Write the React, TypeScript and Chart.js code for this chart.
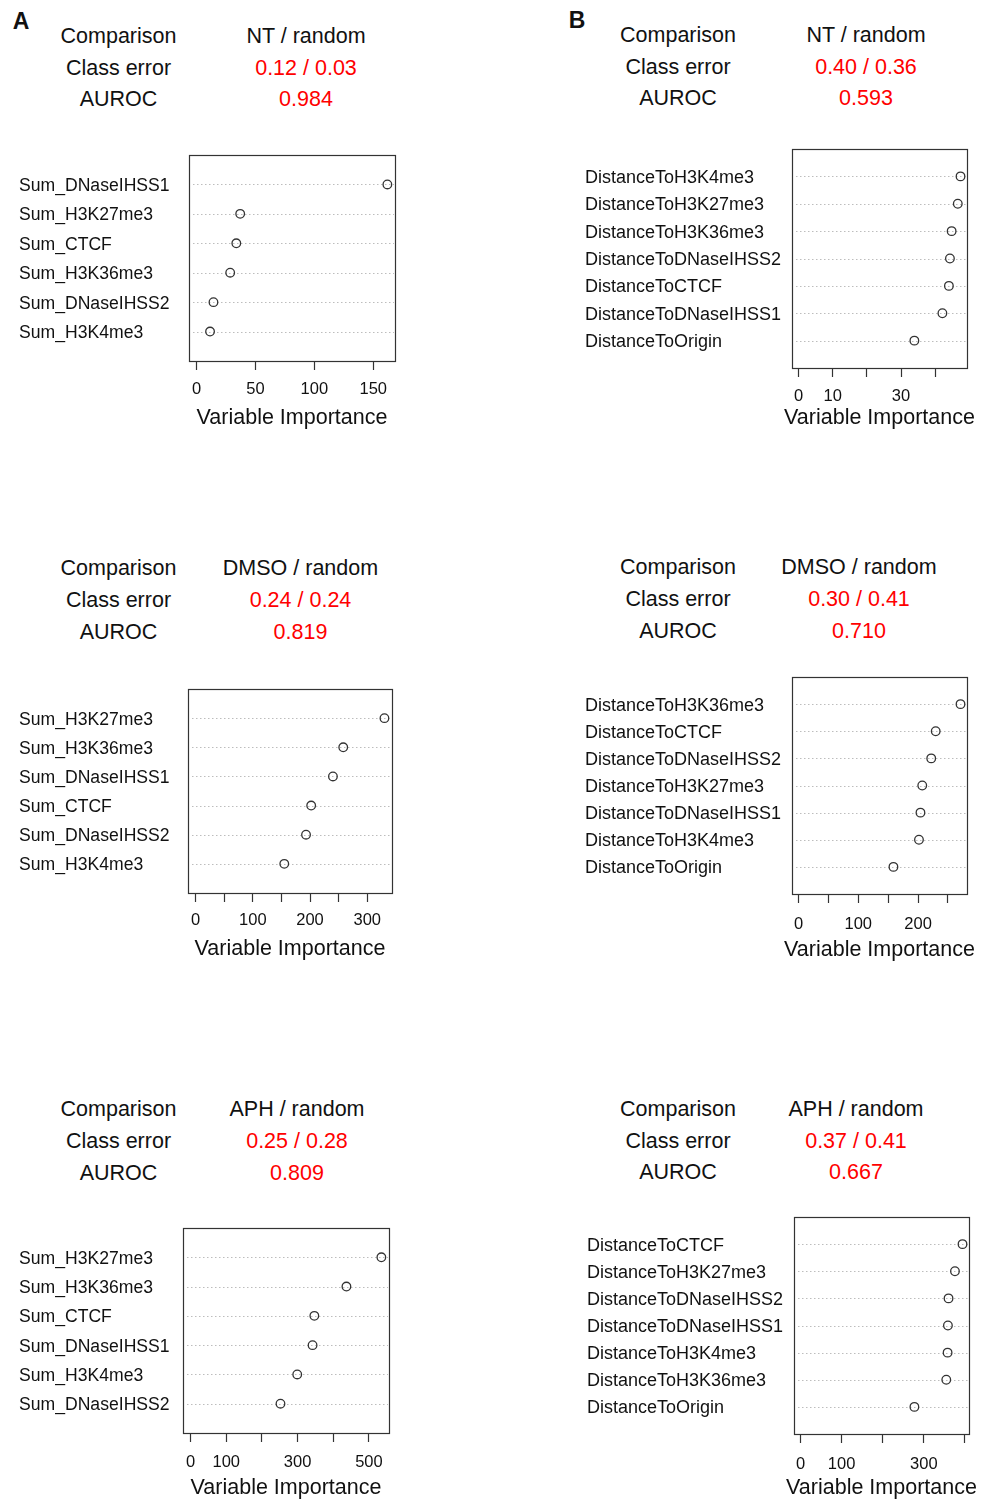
import React, { useEffect, useRef } from "react";
import { Chart, registerables } from "chart.js";

Chart.register(...registerables);

// ---------- DATA ----------
const a1Labels = ["Sum_DNaseIHSS1", "Sum_H3K27me3", "Sum_CTCF", "Sum_H3K36me3", "Sum_DNaseIHSS2", "Sum_H3K4me3"];
const a1Values = [162, 37, 33.7, 28.5, 14.3, 11.4];
const a1Ticks = [0, 50, 100, 150];
const a1TickLabels = ["0", "50", "100", "150"];

const b1Labels = ["DistanceToH3K4me3", "DistanceToH3K27me3", "DistanceToH3K36me3", "DistanceToDNaseIHSS2", "DistanceToCTCF", "DistanceToDNaseIHSS1", "DistanceToOrigin"];
const b1Values = [47.4, 46.6, 44.8, 44.3, 44.0, 42.1, 33.9];
const b1Ticks = [0, 10, 20, 30, 40];
const b1TickLabels = ["0", "10", "", "30", ""];

const a2Labels = ["Sum_H3K27me3", "Sum_H3K36me3", "Sum_DNaseIHSS1", "Sum_CTCF", "Sum_DNaseIHSS2", "Sum_H3K4me3"];
const a2Values = [330, 258, 240, 202, 193, 155];
const a2Ticks = [0, 50, 100, 150, 200, 250, 300];
const a2TickLabels = ["0", "", "100", "", "200", "", "300"];

const b2Labels = ["DistanceToH3K36me3", "DistanceToCTCF", "DistanceToDNaseIHSS2", "DistanceToH3K27me3", "DistanceToDNaseIHSS1", "DistanceToH3K4me3", "DistanceToOrigin"];
const b2Values = [271, 229.5, 222, 207, 204, 201.5, 158.8];
const b2Ticks = [0, 50, 100, 150, 200, 250];
const b2TickLabels = ["0", "", "100", "", "200", ""];

const a3Labels = ["Sum_H3K27me3", "Sum_H3K36me3", "Sum_CTCF", "Sum_DNaseIHSS1", "Sum_H3K4me3", "Sum_DNaseIHSS2"];
const a3Values = [535, 437, 347, 342, 299, 252];
const a3Ticks = [0, 100, 200, 300, 400, 500];
const a3TickLabels = ["0", "100", "", "300", "", "500"];

const b3Labels = ["DistanceToCTCF", "DistanceToH3K27me3", "DistanceToDNaseIHSS2", "DistanceToDNaseIHSS1", "DistanceToH3K4me3", "DistanceToH3K36me3", "DistanceToOrigin"];
const b3Values = [394, 375.6, 360, 358.5, 357.7, 354.5, 277];
const b3Ticks = [0, 100, 200, 300, 400];
const b3TickLabels = ["0", "100", "", "300", ""];

const a1Header = ["NT / random", "0.12 / 0.03", "0.984"];
const b1Header = ["NT / random", "0.40 / 0.36", "0.593"];
const a2Header = ["DMSO / random", "0.24 / 0.24", "0.819"];
const b2Header = ["DMSO / random", "0.30 / 0.41", "0.710"];
const a3Header = ["APH / random", "0.25 / 0.28", "0.809"];
const b3Header = ["APH / random", "0.37 / 0.41", "0.667"];
const headerKeys = ["Comparison", "Class error", "AUROC"];
const axisTitle = "Variable Importance";

// ---------- LAYOUT ----------
const FONT = '"Liberation Sans", Arial, Helvetica, sans-serif';
const PAD_TOP = 12;
const PAD_RIGHT = 16;
const BOTTOM_H = 72;
const TICK_LEN = 9;
const TICK_FONT = 16.5;
const TITLE_FONT = 21.5;

type PanelProps = {
  labels: string[];
  values: number[];
  ticks: number[];
  tickLabels: string[];
  labelLeft: number;
  labelFont: number;
  boxL: number;
  boxR: number;
  boxT: number;
  boxB: number;
  tickOff: number;
  titleOff: number;
};

function Panel(p: PanelProps) {
  const ref = useRef<HTMLCanvasElement | null>(null);
  const width = p.boxR + PAD_RIGHT - p.labelLeft;
  const height = PAD_TOP + (p.boxB - p.boxT) + BOTTOM_H;

  useEffect(() => {
    if (!ref.current) return;
    const n = p.labels.length;
    const maxV = Math.max(...p.values);
    const ext = maxV * 0.04;
    const data = p.values.map((v, i) => ({ x: v, y: n - i }));
    const rows = p.values.map((_, i) => n - i);

    const framePlugin = {
      id: "frame",
      beforeDatasetsDraw(chart: any) {
        const { ctx, chartArea, scales } = chart;
        ctx.save();
        ctx.strokeStyle = "#bdbdbd";
        ctx.lineWidth = 1;
        ctx.setLineDash([1.5, 2.5]);
        rows.forEach((r) => {
          const y = Math.round(scales.y.getPixelForValue(r)) + 0.5;
          ctx.beginPath();
          ctx.moveTo(chartArea.left + 4, y);
          ctx.lineTo(chartArea.right - 1, y);
          ctx.stroke();
        });
        ctx.restore();
      },
      afterDraw(chart: any) {
        const { ctx, chartArea } = chart;
        ctx.save();
        ctx.strokeStyle = "#333";
        ctx.lineWidth = 1.2;
        ctx.strokeRect(
          chartArea.left + 0.5,
          chartArea.top + 0.5,
          chartArea.right - chartArea.left,
          chartArea.bottom - chartArea.top
        );
        ctx.fillStyle = "#111";
        ctx.font = `${TITLE_FONT}px ${FONT}`;
        ctx.textAlign = "center";
        ctx.textBaseline = "middle";
        ctx.fillText(axisTitle, (chartArea.left + chartArea.right) / 2, chartArea.bottom + p.titleOff + 1);
        ctx.restore();
      },
    };

    const chart = new Chart(ref.current, {
      type: "scatter",
      data: {
        datasets: [
          {
            data,
            pointRadius: 4.3,
            pointHoverRadius: 4.3,
            pointBorderWidth: 1.3,
            borderColor: "#333",
            backgroundColor: "rgba(0,0,0,0)",
            pointBackgroundColor: "rgba(0,0,0,0)",
            pointBorderColor: "#333",
          } as any,
        ],
      },
      options: {
        animation: false,
        responsive: false,
        events: [],
        layout: { padding: { top: PAD_TOP, right: PAD_RIGHT, left: 0, bottom: 0 } },
        plugins: { legend: { display: false }, tooltip: { enabled: false } },
        scales: {
          x: {
            type: "linear",
            min: -ext,
            max: maxV + ext,
            afterBuildTicks: (axis: any) => {
              axis.ticks = p.ticks.map((v) => ({ value: v }));
            },
            afterFit: (axis: any) => {
              axis.height = BOTTOM_H;
            },
            grid: {
              display: true,
              drawOnChartArea: false,
              drawTicks: true,
              tickLength: TICK_LEN,
              tickColor: "#333",
              tickWidth: 1.2,
            },
            border: { display: false },
            ticks: {
              autoSkip: false,
              maxRotation: 0,
              padding: p.tickOff - TICK_LEN - (TICK_FONT * 1.2) / 2 + 1,
              color: "#111",
              font: { family: FONT, size: TICK_FONT },
              callback: (_v: any, i: number) => p.tickLabels[i],
            },
          },
          y: {
            type: "linear",
            min: 0,
            max: n + 1,
            afterBuildTicks: (axis: any) => {
              axis.ticks = rows.map((v) => ({ value: v }));
            },
            afterFit: (axis: any) => {
              axis.width = p.boxL - p.labelLeft;
            },
            grid: { display: false },
            border: { display: false },
            ticks: {
              autoSkip: false,
              crossAlign: "far",
              padding: 0,
              labelOffset: 1.5,
              color: "#111",
              font: { family: FONT, size: p.labelFont },
              callback: (v: any) => p.labels[n - Number(v)],
            },
          },
        },
      } as any,
      plugins: [framePlugin],
    });
    return () => chart.destroy();
  }, []);

  return (
    <canvas
      ref={ref}
      width={width}
      height={height}
      style={{
        position: "absolute",
        left: p.labelLeft,
        top: p.boxT - PAD_TOP,
        width,
        height,
      }}
    />
  );
}

function Txt(props: { x: number; y: number; text: string; color?: string; size?: number; bold?: boolean }) {
  return (
    <div
      style={{
        position: "absolute",
        left: props.x,
        top: props.y,
        transform: "translate(-50%, -50%)",
        whiteSpace: "nowrap",
        fontFamily: FONT,
        fontSize: props.size ?? 21.5,
        fontWeight: props.bold ? 700 : 400,
        lineHeight: 1,
        color: props.color ?? "#111",
      }}
    >
      {props.text}
    </div>
  );
}

function Header(props: { lx: number; rx: number; ys: number[]; values: string[] }) {
  return (
    <>
      {headerKeys.map((k, i) => (
        <Txt key={"k" + i} x={props.lx} y={props.ys[i] + 1.5} text={k} />
      ))}
      {props.values.map((v, i) => (
        <Txt key={"v" + i} x={props.rx} y={props.ys[i] + 1.5} text={v} color={i === 0 ? "#111" : "#ff0000"} />
      ))}
    </>
  );
}

export default function App() {
  return (
    <div style={{ position: "absolute", left: 0, top: 0, width: 983, height: 1499, background: "#fff", overflow: "hidden" }}>
      <Txt x={21} y={21} text="A" size={23} bold />
      <Txt x={577} y={20} text="B" size={23} bold />

      <Header lx={118.5} rx={306} ys={[35, 67, 98]} values={a1Header} />
      <Header lx={678} rx={866} ys={[34, 66, 97]} values={b1Header} />
      <Header lx={118.5} rx={300.5} ys={[567, 599, 631]} values={a2Header} />
      <Header lx={678} rx={859} ys={[566, 598, 630]} values={b2Header} />
      <Header lx={118.5} rx={297} ys={[1108, 1140, 1172]} values={a3Header} />
      <Header lx={678} rx={856} ys={[1108, 1140, 1171]} values={b3Header} />

      <Panel labels={a1Labels} values={a1Values} ticks={a1Ticks} tickLabels={a1TickLabels} labelFont={17.6}
        labelLeft={19} boxL={189} boxR={395} boxT={155} boxB={361} tickOff={27} titleOff={56} />
      <Panel labels={b1Labels} values={b1Values} ticks={b1Ticks} tickLabels={b1TickLabels} labelFont={18}
        labelLeft={585} boxL={792} boxR={967} boxT={149} boxB={368} tickOff={27} titleOff={49} />
      <Panel labels={a2Labels} values={a2Values} ticks={a2Ticks} tickLabels={a2TickLabels} labelFont={17.6}
        labelLeft={19} boxL={188} boxR={392} boxT={689} boxB={893} tickOff={26} titleOff={55} />
      <Panel labels={b2Labels} values={b2Values} ticks={b2Ticks} tickLabels={b2TickLabels} labelFont={18}
        labelLeft={585} boxL={792} boxR={967} boxT={677} boxB={894} tickOff={29} titleOff={55} />
      <Panel labels={a3Labels} values={a3Values} ticks={a3Ticks} tickLabels={a3TickLabels} labelFont={17.6}
        labelLeft={19} boxL={183} boxR={389} boxT={1228} boxB={1433} tickOff={28} titleOff={54} />
      <Panel labels={b3Labels} values={b3Values} ticks={b3Ticks} tickLabels={b3TickLabels} labelFont={18}
        labelLeft={587} boxL={794} boxR={969} boxT={1217} boxB={1434} tickOff={29} titleOff={53} />
    </div>
  );
}
